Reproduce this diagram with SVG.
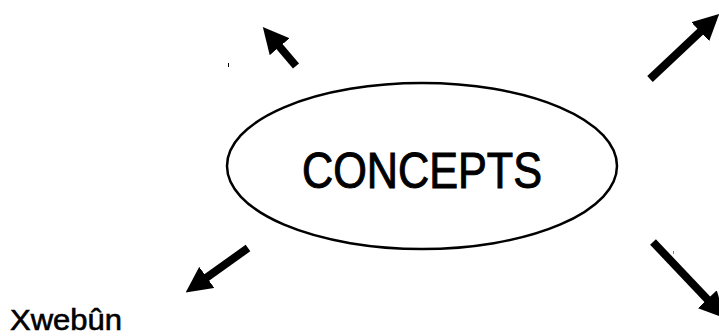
<svg xmlns="http://www.w3.org/2000/svg" width="719" height="336" viewBox="0 0 719 336">
<style>
.arrow{stroke:#000;stroke-width:8;fill:none;marker-end:url(#head)}
.lbl{font-family:"Liberation Sans",Arial,sans-serif;fill:#000;stroke:#000}
</style>
<defs>
<marker id="head" viewBox="0 0 26 26" markerWidth="26" markerHeight="26" markerUnits="userSpaceOnUse" refX="1" refY="13" orient="auto">
<path d="M0,0 L26,13 L0,26 z" fill="#000"/>
</marker>
</defs>
<rect width="719" height="336" fill="#fff"/>
<g id="concepts">
<ellipse cx="422" cy="166" rx="195" ry="83" fill="none" stroke="#000" stroke-width="2.5"/>
<text class="lbl" x="422" y="188" font-size="50" stroke-width="1" text-anchor="middle" textLength="240" lengthAdjust="spacingAndGlyphs">CONCEPTS</text>
</g>
<g id="xwebun">
<text class="lbl" x="10" y="330" font-size="29" stroke-width="0.6" textLength="112" lengthAdjust="spacingAndGlyphs">Xwebûn</text>
</g>
<g id="connectors">
<line class="arrow" x1="296" y1="66" x2="279" y2="46"/>
<line class="arrow" x1="650" y1="79" x2="701" y2="31"/>
<line class="arrow" x1="248" y1="248" x2="206" y2="278"/>
<line class="arrow" x1="653" y1="242" x2="708" y2="300"/>
<rect x="228" y="63" width="1" height="4" fill="#000"/>
<rect x="673" y="251" width="1" height="3" fill="#888"/>
</g>
</svg>
